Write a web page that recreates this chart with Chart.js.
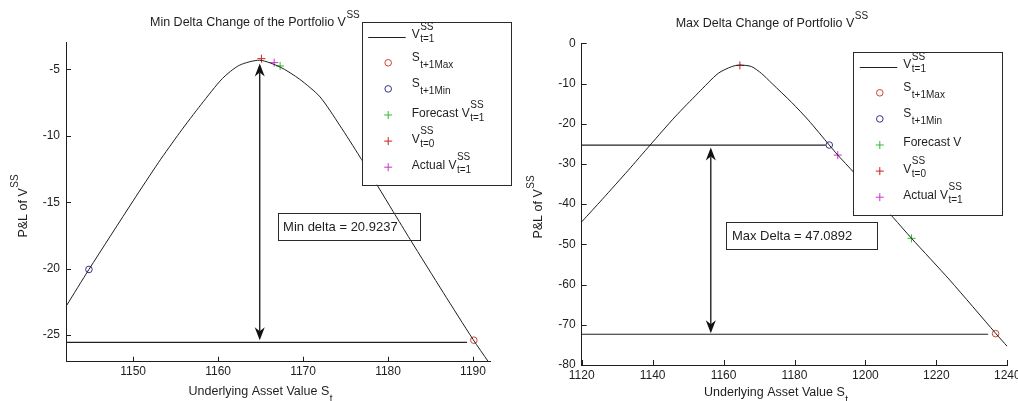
<!DOCTYPE html>
<html>
<head>
<meta charset="utf-8">
<script src="https://cdn.jsdelivr.net/npm/chart.js@4.4.0/dist/chart.umd.min.js"></script>
<style>
  html, body { margin: 0; padding: 0; background: #fff; overflow: hidden; width: 1018px; height: 401px; }
  canvas { position: absolute; top: 0; }
  #minChart { left: 0; }
  #maxChart { left: 509px; }
</style>
</head>
<body>
<canvas id="minChart" width="520" height="401"></canvas>
<canvas id="maxChart" width="522" height="401"></canvas>
<script>
// values

// left panel - min delta
const minS = [1142.2, 1144.8, 1150.0, 1153.0, 1155.5, 1158.0, 1160.5, 1162.5, 1164.9, 1167.3, 1169.6, 1172.0, 1174.3, 1176.7, 1180.6, 1182.6, 1186.5, 1190.0, 1191.8];
const minV = [-22.74, -20.06, -14.9, -12.0, -9.75, -7.65, -5.7, -4.7, -4.32, -4.83, -5.75, -7.08, -9.2, -11.6, -15.7, -17.8, -21.8, -25.32, -27.0];
const minXTicks = [1150, 1160, 1170, 1180, 1190];
const minYTicks = [-25, -20, -15, -10, -5];

// right panel - max delta
const maxS = [1120, 1125.8, 1133.1, 1139.3, 1146.3, 1152.9, 1158.5, 1162.3, 1164.6, 1167.9, 1170.7, 1173.6, 1179.2, 1183.9, 1189.8, 1192.2, 1196.6, 1207.9, 1213.0, 1223.8, 1236.7, 1240];
const maxV = [-44.4, -38.8, -31.6, -25.3, -18.3, -12.3, -7.46, -5.8, -5.4, -5.8, -7.5, -9.95, -14.7, -19.1, -25.3, -27.8, -32.0, -43.4, -48.5, -58.9, -72.1, -75.4];
const maxXTicks = [1120, 1140, 1160, 1180, 1200, 1220, 1240];
const maxYTicks = [-80, -70, -60, -50, -40, -30, -20, -10, 0];

// markers: S(t+1)Max, S(t+1)Min, forecast, V(t=0), actual
const minMarkS = [1190.1, 1144.8, 1167.3, 1165.1, 1166.6];
const minMarkV = [-25.38, -20.06, -4.75, -4.2, -4.5];
const maxMarkS = [1236.7, 1189.8, 1213.0, 1164.6, 1192.2];
const maxMarkV = [-72.2, -25.3, -48.5, -5.5, -27.8];

// horizontal levels and the delta arrows
const minLevelV = [-25.55];
const minLevelEnd = [1189.3];
const maxLevelV = [-25.3, -72.35];
const maxLevelEnd = [1188.8, 1234.6];
const minArrowS = 1164.9;
const minArrowV = [-25.38, -4.57];
const maxArrowS = 1156.4;
const maxArrowV = [-25.9, -72.1];
const minDelta = 'Min delta = 20.9237';
const maxDelta = 'Max Delta = 47.0892';
const minBoxS = [1167.0, 1183.7], minBoxV = [-15.8, -17.86];
const maxBoxS = [1160.8, 1203.3], maxBoxV = [-44.4, -51.2];

const markStyle = ['circle', 'circle', 'cross', 'cross', 'cross'];
const markColor = ['#cc4433', '#333388', '#33bb33', '#cc2222', '#cc33cc'];

const FONT = '"Liberation Sans", Arial, Helvetica, sans-serif';
const INK = '#1e1e1e';

// text with a superscript and/or subscript after it, returns width
function rich(ctx, x, y, base, sup, sub, size, measureOnly) {
  const small = Math.round(size * 0.8);
  ctx.font = size + 'px ' + FONT;
  const w = ctx.measureText(base).width;
  if (!measureOnly) ctx.fillText(base, x, y);
  ctx.font = small + 'px ' + FONT;
  let ws = 0;
  if (sup) {
    if (!measureOnly) ctx.fillText(sup, x + w + 0.5, y - 8.5);
    ws = ctx.measureText(sup).width;
  }
  if (sub) {
    if (!measureOnly) ctx.fillText(sub, x + w + 0.5, y + (sup ? 4 : 6.5));
    ws = Math.max(ws, ctx.measureText(sub).width);
  }
  return w + 0.5 + ws;
}

function drawMark(ctx, style, color, x, y) {
  ctx.save();
  ctx.strokeStyle = color;
  ctx.lineWidth = 1;
  ctx.beginPath();
  if (style === 'circle') {
    ctx.arc(x, y, 3.3, 0, Math.PI * 2);
  } else {
    ctx.moveTo(x - 4, y); ctx.lineTo(x + 4, y);
    ctx.moveTo(x, y - 4); ctx.lineTo(x, y + 4);
  }
  ctx.stroke();
  ctx.restore();
}

function arrowHead(ctx, x, tip, dir) {
  // dir = +1 head points down, -1 points up
  ctx.beginPath();
  ctx.moveTo(x, tip);
  ctx.lineTo(x - 5, tip - dir * 13);
  ctx.lineTo(x, tip - dir * 9);
  ctx.lineTo(x + 5, tip - dir * 13);
  ctx.closePath();
  ctx.fill();
}

const decor = {
  id: 'decor',
  afterDatasetsDraw(chart) {
    const d = chart.$decor;
    const ctx = chart.ctx;
    const xs = chart.scales.x, ys = chart.scales.y;
    const area = chart.chartArea;
    ctx.save();
    // inward ticks
    ctx.strokeStyle = INK;
    ctx.lineWidth = 1;
    ctx.beginPath();
    xs.ticks.forEach(t => {
      const px = Math.round(xs.getPixelForValue(t.value)) + 0.5;
      ctx.moveTo(px, area.bottom); ctx.lineTo(px, area.bottom - 5);
    });
    ys.ticks.forEach(t => {
      const py = Math.round(ys.getPixelForValue(t.value)) + 0.5;
      ctx.moveTo(area.left, py); ctx.lineTo(area.left + 5, py);
    });
    ctx.stroke();

    // double arrow
    const ax = xs.getPixelForValue(d.arrowS);
    const a1 = ys.getPixelForValue(d.arrowV[0]);
    const a2 = ys.getPixelForValue(d.arrowV[1]);
    const lo = Math.max(a1, a2), hi = Math.min(a1, a2);
    ctx.strokeStyle = '#111';
    ctx.fillStyle = '#111';
    ctx.lineWidth = 1.3;
    ctx.beginPath();
    ctx.moveTo(ax, hi + 9); ctx.lineTo(ax, lo - 9);
    ctx.stroke();
    arrowHead(ctx, ax, lo, 1);
    arrowHead(ctx, ax, hi, -1);

    // delta text box
    const bx1 = xs.getPixelForValue(d.boxS[0]), bx2 = xs.getPixelForValue(d.boxS[1]);
    const by1 = ys.getPixelForValue(d.boxV[0]), by2 = ys.getPixelForValue(d.boxV[1]);
    ctx.strokeStyle = '#2a2a2a';
    ctx.lineWidth = 1;
    ctx.strokeRect(Math.round(bx1) + 0.5, Math.round(by1) + 0.5, Math.round(bx2 - bx1), Math.round(by2 - by1));
    ctx.fillStyle = INK;
    ctx.font = '13px ' + FONT;
    ctx.textBaseline = 'alphabetic';
    ctx.fillText(d.delta, bx1 + 5.5, (by1 + by2) / 2 + 4.5);
    ctx.restore();
  },
  afterDraw(chart) {
    const d = chart.$decor;
    const ctx = chart.ctx;
    ctx.save();
    ctx.fillStyle = INK;
    ctx.textBaseline = 'alphabetic';
    ctx.textAlign = 'left';

    // title
    rich(ctx, d.title[0], d.title[1], d.titleText, 'SS', null, 12.5);
    // x axis title
    rich(ctx, d.xTitle[0], d.xTitle[1], 'Underlying Asset Value S', null, 't', 12.5);
    // y axis title, rotated
    ctx.save();
    ctx.translate(d.yTitle[0], d.yTitle[1]);
    ctx.rotate(-Math.PI / 2);
    const yw = rich(ctx, 0, 0, 'P&L of V', 'SS', null, 12.5, true);
    rich(ctx, -yw / 2, 0, 'P&L of V', 'SS', null, 12.5);
    ctx.restore();

    // legend box
    const L = d.legend;
    ctx.fillStyle = '#fff';
    ctx.fillRect(L[0], L[1], 149, 163);
    ctx.strokeStyle = '#2a2a2a';
    ctx.lineWidth = 1;
    ctx.strokeRect(Math.round(L[0]) + 0.5, Math.round(L[1]) + 0.5, 149, 163);
    ctx.fillStyle = INK;
    const rows = d.legendRows;
    rows.forEach((r, i) => {
      const my = L[1] + 15 + i * 26.1;
      if (i === 0) {
        ctx.strokeStyle = INK;
        ctx.beginPath();
        ctx.moveTo(L[0] + 6.5, Math.round(my) + 0.5);
        ctx.lineTo(L[0] + 44, Math.round(my) + 0.5);
        ctx.stroke();
      } else {
        drawMark(ctx, markStyle[i - 1], markColor[i - 1], L[0] + 26.5, my);
      }
      const base = r[1] && r[2] ? my + 1.5 : (r[2] ? my - 1.5 : my + 1);
      ctx.fillStyle = INK;
      rich(ctx, L[0] + 50, base, r[0], r[1], r[2], 12);
    });
    ctx.restore();
  }
};

function buildChart(id, s, v, xr, yr, xTicks, yTicks, markS, markV, levelV, levelEnd, decorOpts, pad, yWidth, xHeight) {
  const datasets = [];
  datasets.push({
    data: s.map((x, i) => ({ x: x, y: v[i] })),
    showLine: true, borderColor: INK, borderWidth: 1, pointRadius: 0,
    tension: 0.25
  });
  levelV.forEach((lv, i) => {
    datasets.push({
      data: [{ x: xr[0], y: lv }, { x: levelEnd[i], y: lv }],
      showLine: true, borderColor: '#222', borderWidth: 1.2, pointRadius: 0
    });
  });
  markS.forEach((ms, i) => {
    datasets.push({
      data: [{ x: ms, y: markV[i] }],
      pointStyle: markStyle[i],
      pointRadius: markStyle[i] === 'circle' ? 3.3 : 4,
      pointBorderColor: markColor[i],
      pointBackgroundColor: 'rgba(0,0,0,0)',
      pointBorderWidth: 1
    });
  });

  const tickFont = { family: FONT, size: 12 };
  const chart = new Chart(document.getElementById(id), {
    type: 'scatter',
    data: { datasets: datasets },
    options: {
      responsive: false,
      animation: false,
      devicePixelRatio: 1,
      events: [],
      layout: { padding: pad },
      plugins: { legend: { display: false }, tooltip: { enabled: false }, title: { display: false } },
      scales: {
        x: {
          type: 'linear', min: xr[0], max: xr[1],
          afterBuildTicks: sc => { sc.ticks = xTicks.map(t => ({ value: t })); },
          ticks: { autoSkip: false, maxRotation: 0, padding: 3, color: INK, font: tickFont, callback: val => String(val) },
          grid: { display: false, drawTicks: false },
          border: { display: true, color: INK, width: 1 },
          afterFit: sc => { sc.height = xHeight; }
        },
        y: {
          type: 'linear', min: yr[0], max: yr[1],
          afterBuildTicks: sc => { sc.ticks = yTicks.map(t => ({ value: t })); },
          ticks: { autoSkip: false, padding: 6, color: INK, font: tickFont, callback: val => String(val) },
          grid: { display: false, drawTicks: false },
          border: { display: true, color: INK, width: 1 },
          afterFit: sc => { sc.width = yWidth; }
        }
      }
    },
    plugins: [{ id: 'attach', beforeInit(c) { c.$decor = decorOpts; } }, decor]
  });
  return chart;
}

buildChart('minChart', minS, minV, [1142.1, 1192.0], [-27.0, -3.0],
  minXTicks, minYTicks,
  minMarkS, minMarkV, minLevelV, minLevelEnd,
  {
    arrowS: minArrowS, arrowV: minArrowV, boxS: minBoxS, boxV: minBoxV, delta: minDelta,
    title: [150, 26], titleText: 'Min Delta Change of the Portfolio V',
    xTitle: [188.5, 395], yTitle: [26.7, 206],
    legend: [361.7, 21.7],
    legendRows: [['V', 'SS', 't=1'], ['S', null, 't+1Max'], ['S', null, 't+1Min'], ['Forecast V', 'SS', 't=1'], ['V', 'SS', 't=0'], ['Actual V', 'SS', 't=1']]
  },
  { top: 42.7, right: 30, bottom: 0, left: 0 }, 66, 39.3);

buildChart('maxChart', maxS, maxV, [1120, 1240], [-80, 0],
  maxXTicks, maxYTicks,
  maxMarkS, maxMarkV, maxLevelV, maxLevelEnd,
  {
    arrowS: maxArrowS, arrowV: maxArrowV, boxS: maxBoxS, boxV: maxBoxV, delta: maxDelta,
    title: [166.7, 27], titleText: 'Max Delta Change of Portfolio V',
    xTitle: [195, 396], yTitle: [33.3, 207],
    legend: [344.3, 51.7],
    legendRows: [['V', 'SS', 't=1'], ['S', null, 't+1Max'], ['S', null, 't+1Min'], ['Forecast V', null, null], ['V', 'SS', 't=0'], ['Actual V', 'SS', 't=1']]
  },
  { top: 43.3, right: 23.7, bottom: 0, left: 0 }, 72.7, 36);
</script>
</body>
</html>
